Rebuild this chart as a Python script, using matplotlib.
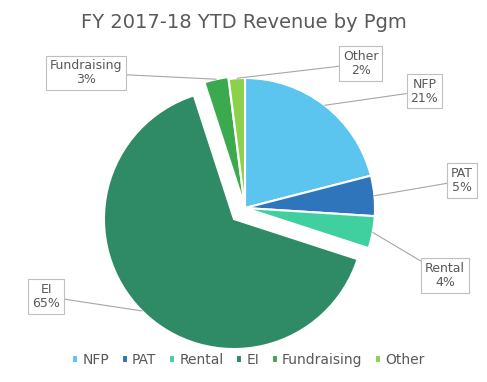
import matplotlib.pyplot as plt
import numpy as np

programs = ['NFP', 'PAT', 'Rental', 'EI', 'Fundraising', 'Other']
shares = [21, 5, 4, 65, 3, 2]
colors = ['#5BC5F0', '#2F75BC', '#40D0A0', '#2E8B66', '#3BAA4E', '#8CD14A']
explode = [0, 0, 0, 0.12, 0.015, 0]
# label box positions (data coords, pie radius = 1)
label_pos = [(1.38, 0.90), (1.67, 0.21), (1.54, -0.52), (-1.53, -0.68), (-1.22, 1.04), (0.89, 1.11)]

fig = plt.figure(figsize=(4.87, 3.82), dpi=100)
ax = fig.add_axes([37 / 487, 5 / 382, 416 / 487, 338 / 382])
wedges, _ = ax.pie(shares, colors=colors, startangle=90, counterclock=False,
                   explode=explode, radius=1,
                   wedgeprops=dict(edgecolor='white', linewidth=1.5))
ax.set_xlim(-1.6, 1.6)
ax.set_ylim(-1.3, 1.3)
ax.set_aspect('equal')
ax.axis('off')

for w, name, val, pos in zip(wedges, programs, shares, label_pos):
    mid = np.deg2rad((w.theta1 + w.theta2) / 2)
    cx, cy = w.center
    xy = (cx + np.cos(mid), cy + np.sin(mid))
    ax.annotate(f'{name}\n{val}%', xy=xy, xytext=pos, ha='center', va='center',
                fontsize=9, color='#595959', linespacing=1.1, annotation_clip=False,
                bbox=dict(boxstyle='square,pad=0.3', fc='white', ec='#BFBFBF', lw=0.8),
                arrowprops=dict(arrowstyle='-', color='#A6A6A6', lw=0.8,
                                shrinkA=0, shrinkB=0))

fig.text(0.5, 1 - 22 / 382, 'FY 2017-18 YTD Revenue by Pgm', ha='center', va='center',
         fontsize=14, color='#595959')

fig.legend(wedges, programs, loc='center', bbox_to_anchor=(0.51, 1 - 360 / 382), ncol=6,
           frameon=False, fontsize=10, handlelength=0.45, handleheight=0.45,
           handletextpad=0.3, columnspacing=0.9, labelcolor='#595959')

fig.savefig('out.png', dpi=100)
